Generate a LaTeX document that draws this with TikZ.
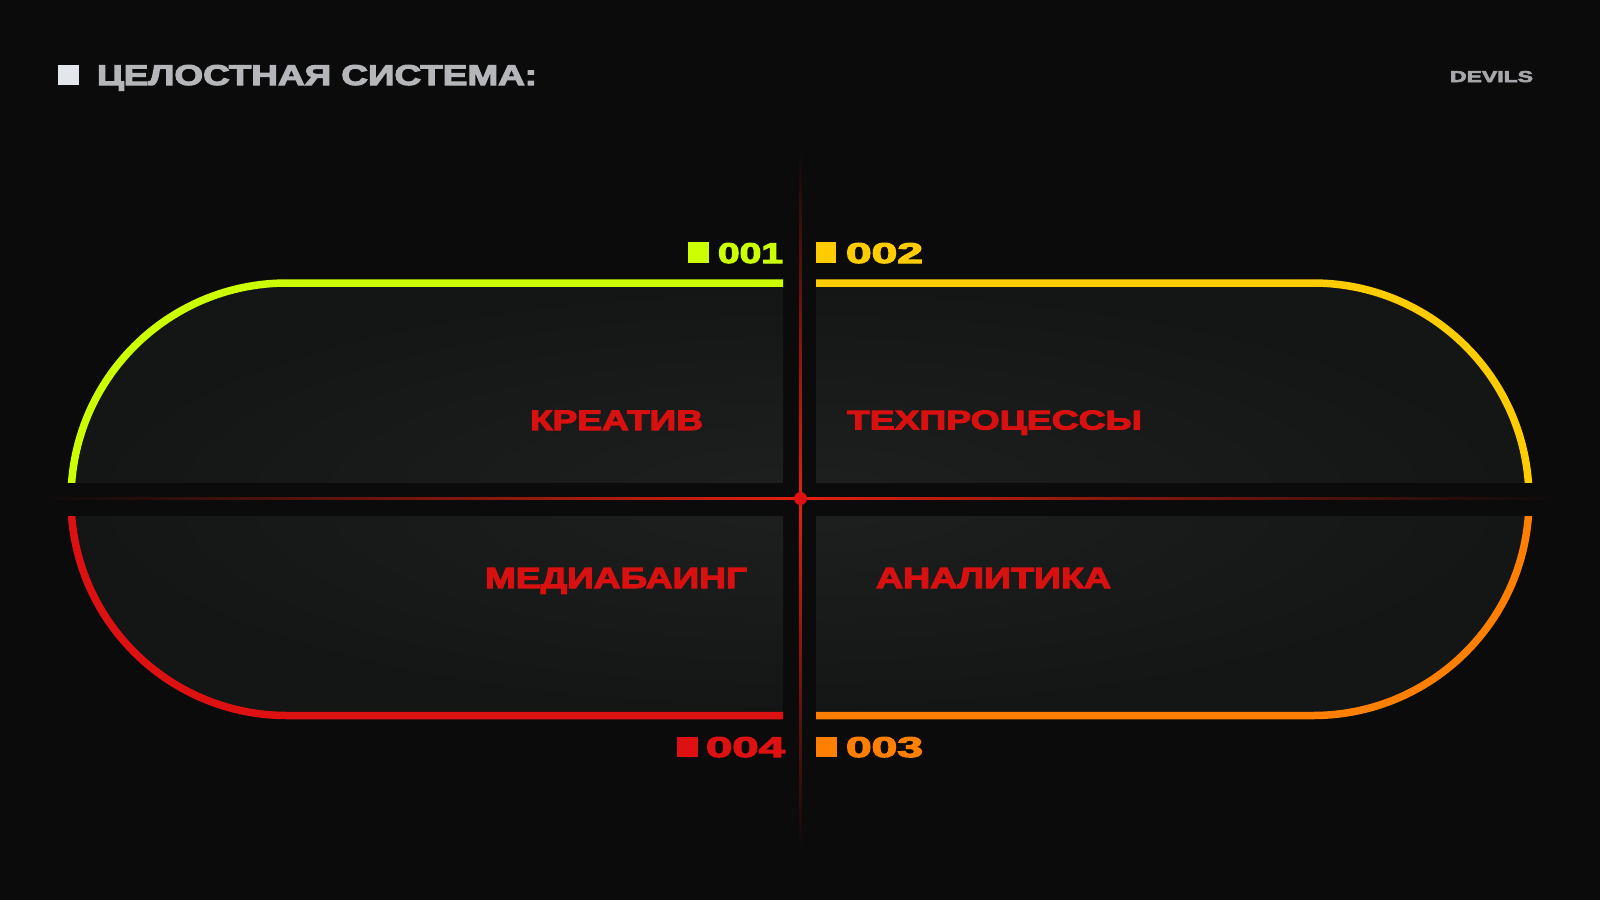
\documentclass[tikz,border=0pt]{standalone}
\usepackage{fontspec}
\setmainfont{Liberation Sans}
\newfontfamily\heavy{Liberation Sans Bold}[FakeBold=3.5]
\usepackage{graphicx}
\definecolor{bgc}{RGB}{11,11,11}
\definecolor{capin}{RGB}{30,32,32}
\definecolor{capout}{RGB}{20,21,21}
\definecolor{limec}{RGB}{204,255,0}
\definecolor{yelc}{RGB}{255,204,0}
\definecolor{orac}{RGB}{255,127,0}
\definecolor{redc}{RGB}{221,17,17}
\definecolor{labred}{RGB}{216,16,16}
\definecolor{linered}{RGB}{228,32,16}
\definecolor{titlegray}{RGB}{180,182,185}
\definecolor{sqgray}{RGB}{227,230,234}
\definecolor{devgray}{RGB}{165,167,170}
\newcommand{\fitt}[3]{\resizebox{#1pt}{#2pt}{\heavy #3}}
\begin{document}
\begin{tikzpicture}[x=1pt,y=-1pt,
  txt/.style={anchor=base west, inner sep=0pt, outer sep=0pt},
  capsule/.style={rounded corners=216pt},
  ring/.style={line width=7.5pt}]
\useasboundingbox (0,0) rectangle (1600,900);
\fill[bgc] (0,0) rectangle (1600,900);

% quadrants
\begin{scope}
  \clip (0,0) rectangle (783,482);
  \shade[inner color=capin, outer color=capout, capsule] (71,283) rectangle (1529,715.5);
  \draw[ring, limec, capsule] (71,283) rectangle (1529,715.5);
\end{scope}
\begin{scope}
  \clip (816,0) rectangle (1600,482);
  \shade[inner color=capin, outer color=capout, capsule] (71,283) rectangle (1529,715.5);
  \draw[ring, yelc, capsule] (71,283) rectangle (1529,715.5);
\end{scope}
\begin{scope}
  \clip (0,516) rectangle (783,900);
  \shade[inner color=capin, outer color=capout, capsule] (71,283) rectangle (1529,715.5);
  \draw[ring, redc, capsule] (71,283) rectangle (1529,715.5);
\end{scope}
\begin{scope}
  \clip (816,516) rectangle (1600,900);
  \shade[inner color=capin, outer color=capout, capsule] (71,283) rectangle (1529,715.5);
  \draw[ring, orac, capsule] (71,283) rectangle (1529,715.5);
\end{scope}

% axes
\shade[left color=bgc, right color=bgc, middle color=linered] (40,497.3) rectangle (1560,499.8);
\shade[top color=bgc, bottom color=bgc, middle color=linered] (799.3,150) rectangle (801.8,850);
\fill[redc] (800.5,498.5) circle[radius=6.5pt];

% title
\fill[sqgray] (58,65) rectangle (79,85);
\node[txt, text=titlegray] (title) at (97,85) {\fitt{440}{20}{ЦЕЛОСТНАЯ СИСТЕМА:}};
\node[txt, text=devgray] (devils) at (1450,82) {\fitt{83}{11}{DEVILS}};

% numbered labels
\fill[limec] (688,242) rectangle (709,263);
\node[txt, text=limec] (n1) at (718,263) {\fitt{65}{20}{001}};
\fill[yelc] (816,242) rectangle (836,263);
\node[txt, text=yelc] (n2) at (846,263) {\fitt{77}{20}{002}};
\fill[redc] (677,737) rectangle (698,757);
\node[txt, text=redc] (n4) at (706,757) {\fitt{79}{20}{004}};
\fill[orac] (816,737) rectangle (837,757);
\node[txt, text=orac] (n3) at (846,757) {\fitt{77}{20}{003}};

% quadrant labels
\node[txt, text=labred] (kreativ) at (530,430) {\fitt{173}{19.5}{КРЕАТИВ}};
\node[txt, text=labred] (tech) at (847,429.5) {\fitt{295}{19}{ТЕХПРОЦЕССЫ}};
\node[txt, text=labred] (media) at (485,588) {\fitt{262}{20}{МЕДИАБАИНГ}};
\node[txt, text=labred] (anal) at (876,588) {\fitt{235}{20}{АНАЛИТИКА}};
\end{tikzpicture}
\end{document}
